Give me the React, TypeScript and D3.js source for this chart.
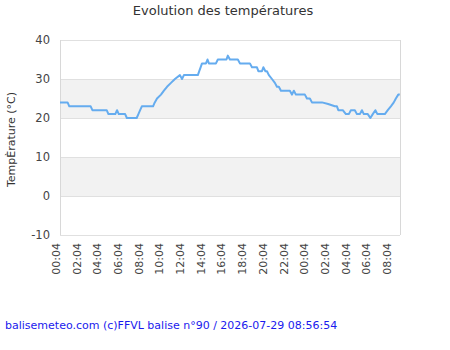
import React, { useEffect, useRef } from 'react';
import * as d3 from 'd3';

// temperature readings (°C), one entry per sample
const sampleTimes = [
  '2026-07-28 00:04', '2026-07-28 00:48', '2026-07-28 00:58', '2026-07-28 03:02',
  '2026-07-28 03:12', '2026-07-28 04:35', '2026-07-28 04:45', '2026-07-28 05:25',
  '2026-07-28 05:35', '2026-07-28 05:45', '2026-07-28 06:22', '2026-07-28 06:32',
  '2026-07-28 07:29', '2026-07-28 07:39', '2026-07-28 07:49', '2026-07-28 07:59',
  '2026-07-28 09:04', '2026-07-28 09:14', '2026-07-28 09:27', '2026-07-28 09:50',
  '2026-07-28 10:07', '2026-07-28 10:25', '2026-07-28 10:48', '2026-07-28 11:11',
  '2026-07-28 11:40', '2026-07-28 11:52', '2026-07-28 12:03', '2026-07-28 13:24',
  '2026-07-28 13:32', '2026-07-28 13:40', '2026-07-28 13:48', '2026-07-28 14:11',
  '2026-07-28 14:20', '2026-07-28 14:28', '2026-07-28 15:09', '2026-07-28 15:20',
  '2026-07-28 16:10', '2026-07-28 16:18', '2026-07-28 16:30', '2026-07-28 17:16',
  '2026-07-28 17:28', '2026-07-28 18:26', '2026-07-28 18:38', '2026-07-28 19:07',
  '2026-07-28 19:15', '2026-07-28 19:36', '2026-07-28 19:44', '2026-07-28 19:56',
  '2026-07-28 20:05', '2026-07-28 20:16', '2026-07-28 20:34', '2026-07-28 20:51',
  '2026-07-28 21:03', '2026-07-28 21:14', '2026-07-28 21:26', '2026-07-28 22:18',
  '2026-07-28 22:30', '2026-07-28 22:41', '2026-07-28 22:53', '2026-07-28 23:45',
  '2026-07-28 23:57', '2026-07-29 00:14', '2026-07-29 00:26', '2026-07-29 01:24',
  '2026-07-29 02:00', '2026-07-29 02:39', '2026-07-29 02:51', '2026-07-29 02:59',
  '2026-07-29 03:25', '2026-07-29 03:43', '2026-07-29 04:00', '2026-07-29 04:12',
  '2026-07-29 04:35', '2026-07-29 04:47', '2026-07-29 05:04', '2026-07-29 05:16',
  '2026-07-29 05:27', '2026-07-29 05:50', '2026-07-29 06:05', '2026-07-29 06:19',
  '2026-07-29 06:34', '2026-07-29 06:46', '2026-07-29 07:29', '2026-07-29 07:46',
  '2026-07-29 08:04', '2026-07-29 08:21', '2026-07-29 08:33', '2026-07-29 08:47',
  '2026-07-29 08:56',
];

const sampleTemps = [
  24, 24, 23, 23,
  22, 22, 21, 21,
  22, 21, 21, 20,
  20, 21, 22, 23,
  23, 24, 25, 26,
  27, 28, 29, 30,
  31, 30, 31, 31,
  32, 33, 34, 34,
  35, 34, 34, 35,
  35, 36, 35, 35,
  34, 34, 33, 33,
  32, 32, 33, 32,
  32, 31, 30, 29,
  28, 28, 27, 27,
  26, 27, 26, 26,
  25, 25, 24, 24,
  23.6, 23, 23, 22,
  22, 21, 21, 22,
  22, 21, 21, 22,
  21, 21, 20, 21,
  22, 21, 21, 22,
  23, 24, 25, 26,
  26,
];

const tickLabels = [
  '2026-07-28 00:04', '2026-07-28 02:04', '2026-07-28 04:04', '2026-07-28 06:04',
  '2026-07-28 08:04', '2026-07-28 10:04', '2026-07-28 12:04', '2026-07-28 14:04',
  '2026-07-28 16:04', '2026-07-28 18:04', '2026-07-28 20:04', '2026-07-28 22:04',
  '2026-07-29 00:04', '2026-07-29 02:04', '2026-07-29 04:04', '2026-07-29 06:04',
  '2026-07-29 08:04',
];

const yTicks = [-10, 0, 10, 20, 30, 40];
// shaded bands between these temperatures
const bands = [[0, 10], [20, 30]];

const xStart = '2026-07-28 00:04';
const xEnd = '2026-07-29 08:57';

function App() {
  const svgRef = useRef<SVGSVGElement>(null);

  useEffect(() => {
    const width = 450;
    const height = 350;
    const margin = { top: 40, right: 50, bottom: 115, left: 60 };
    const font = 'DejaVu Sans, sans-serif';

    const parse = d3.timeParse('%Y-%m-%d %H:%M');
    const data = sampleTimes.map((t, i) => ({ date: parse(t) as Date, temp: sampleTemps[i] }));

    const svg = d3.select(svgRef.current);
    svg.selectAll('*').remove();

    const x = d3
      .scaleTime()
      .domain([parse(xStart) as Date, parse(xEnd) as Date])
      .range([margin.left, width - margin.right]);

    const y = d3
      .scaleLinear()
      .domain([-10, 40])
      .range([height - margin.bottom, margin.top]);

    svg.append('rect').attr('width', width).attr('height', height).attr('fill', '#ffffff');

    // alternate grey bands
    svg
      .append('g')
      .selectAll('rect')
      .data(bands)
      .enter()
      .append('rect')
      .attr('x', margin.left)
      .attr('width', width - margin.left - margin.right)
      .attr('y', (d) => y(d[1]))
      .attr('height', (d) => y(d[0]) - y(d[1]))
      .attr('fill', '#f2f2f2');

    // horizontal grid lines
    svg
      .append('g')
      .selectAll('line')
      .data(yTicks)
      .enter()
      .append('line')
      .attr('x1', margin.left)
      .attr('x2', width - margin.right)
      .attr('y1', (d) => Math.round(y(d)) + 0.5)
      .attr('y2', (d) => Math.round(y(d)) + 0.5)
      .attr('stroke', '#e0e0e0')
      .attr('stroke-width', 1);

    // left and right borders of the plot
    [margin.left, width - margin.right].forEach((px) => {
      svg
        .append('line')
        .attr('x1', px + 0.5)
        .attr('x2', px + 0.5)
        .attr('y1', margin.top)
        .attr('y2', height - margin.bottom)
        .attr('stroke', '#d8d8d8');
    });

    // y axis labels (plain hyphen for negatives)
    svg
      .append('g')
      .attr('transform', `translate(${margin.left}, 0)`)
      .call(
        d3
          .axisLeft(y)
          .tickValues(yTicks)
          .tickSize(0)
          .tickPadding(10)
          .tickFormat((d) => String(d)),
      )
      .call((g) => g.select('.domain').remove())
      .selectAll('text')
      .attr('font-family', font)
      .attr('font-size', '11.5px')
      .attr('fill', '#444444');

    // x axis labels, rotated
    const xTicks = tickLabels.map((t) => parse(t) as Date);
    svg
      .append('g')
      .attr('transform', `translate(0, ${height - margin.bottom})`)
      .call(
        d3
          .axisBottom(x)
          .tickValues(xTicks)
          .tickSize(0)
          .tickFormat((d) => d3.timeFormat('%H:%M')(d as Date)),
      )
      .call((g) => g.select('.domain').remove())
      .selectAll('text')
      .attr('font-family', font)
      .attr('font-size', '11px')
      .attr('fill', '#444444')
      .attr('transform', 'translate(-4, 8) rotate(-90)')
      .attr('dy', '0.32em')
      .attr('y', 0)
      .style('text-anchor', 'end');

    // temperature line
    const line = d3
      .line<{ date: Date; temp: number }>()
      .x((d) => x(d.date))
      .y((d) => y(d.temp));

    svg
      .append('path')
      .datum(data)
      .attr('d', line)
      .attr('fill', 'none')
      .attr('stroke', '#65acef')
      .attr('stroke-width', 2)
      .attr('stroke-linejoin', 'round');

    // title
    svg
      .append('text')
      .attr('x', 223)
      .attr('y', 15)
      .attr('text-anchor', 'middle')
      .attr('font-family', font)
      .attr('font-size', '13px')
      .attr('fill', '#333333')
      .text('Evolution des températures');

    // y axis title
    svg
      .append('text')
      .attr('transform', `translate(15, ${(y(40) + y(-10)) / 2 + 2}) rotate(-90)`)
      .attr('text-anchor', 'middle')
      .attr('font-family', font)
      .attr('font-size', '11px')
      .attr('fill', '#333333')
      .text('TempÈrature (°C)');

    // footer credit
    svg
      .append('text')
      .attr('x', 5)
      .attr('y', 329)
      .attr('font-family', font)
      .attr('font-size', '11px')
      .attr('fill', '#1a1aee')
      .text('balisemeteo.com (c)FFVL balise n°90 / 2026-07-29 08:56:54');
  }, []);

  return (
    <div style={{ position: 'absolute', left: 0, top: 0 }}>
      <svg ref={svgRef} width={450} height={350} />
    </div>
  );
}

export default App;
